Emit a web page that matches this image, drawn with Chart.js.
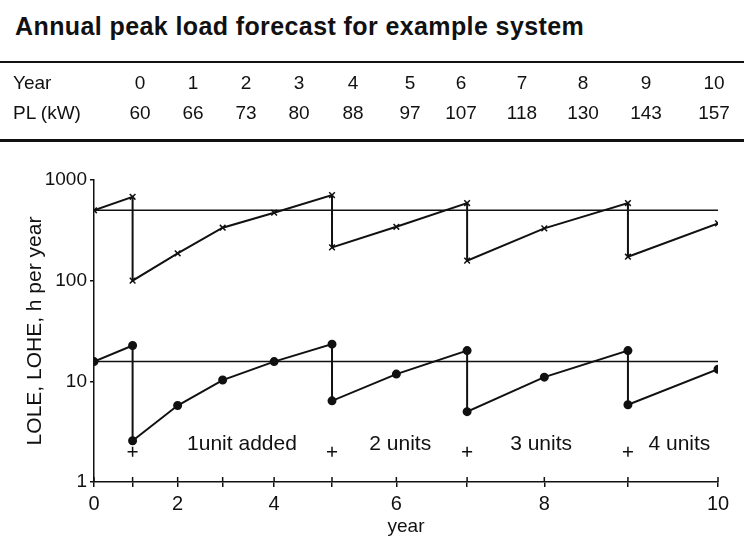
<!DOCTYPE html>
<html>
<head>
<meta charset="utf-8">
<script src="https://cdn.jsdelivr.net/npm/chart.js@4"></script>
<style>
  body { margin: 0; background: #fff; }
  #page { position: relative; width: 744px; height: 542px; font-family: "Liberation Sans", Arial, sans-serif; color: #111; }
  #title { position: absolute; left: 15px; top: 14px; font-size: 25px; line-height: 25px; font-weight: bold; letter-spacing: 0.4px; white-space: nowrap; }
  .rule { position: absolute; left: 0; width: 744px; background: #111; }
  .cell { position: absolute; font-size: 19px; line-height: 19px; white-space: nowrap; }
  canvas { position: absolute; left: 0; top: 0; }
</style>
</head>
<body>
<div id="page">
  <div id="title">Annual peak load forecast for example system</div>
  <div class="rule" style="top:61px;height:2px"></div>
  <div class="rule" style="top:139px;height:3px"></div>
  <canvas id="chart" width="744" height="542"></canvas>
</div>
<script>
// table + x axis data
const years = [0, 1, 2, 3, 4, 5, 6, 7, 8, 9, 10];
const peakLoad = [60, 66, 73, 80, 88, 97, 107, 118, 130, 143, 157];

// LOHE / LOLE at each year with the units in service before any addition,
// and the value right after a unit is added (null = no unit added)
const loheBefore = [500, 681, 187, 336, 473, 708, 343, 590, 331, 590, 371];
const loheAfter = [null, 100, null, null, null, 214, null, 158, null, 173, null];
const loleBefore = [15.7, 22.7, 5.75, 10.3, 15.7, 23.4, 11.8, 20.2, 11.0, 20.2, 13.2];
const loleAfter = [null, 2.57, null, null, null, 6.4, null, 5.0, null, 5.85, null];

// criterion levels
const loheLimit = 500;
const loleLimit = 15.7;

// unit additions
const unitMarkY = 2;
const unitLabels = ['1unit added', '2 units', '3 units', '4 units'];
const unitLabelX = [83, 107.6, 129.5, 151];
const unitLabelY = 2.4;

const yTicks = [1, 10, 100, 1000];

// table
const colCenters = [140, 193, 246, 299, 353, 410, 461, 522, 583, 646, 714];
const page = document.getElementById('page');
function addCell(text, left, top, center) {
    const d = document.createElement('div');
    d.className = 'cell';
    d.textContent = text;
    d.style.top = top + 'px';
    d.style.left = left + 'px';
    if (center) d.style.transform = 'translateX(-50%)';
    page.appendChild(d);
}
addCell('Year', 13, 73, false);
addCell('PL (kW)', 13, 103, false);
years.forEach((y, i) => {
    addCell(String(y), colCenters[i], 73, true);
    addCell(String(peakLoad[i]), colCenters[i], 103, true);
});

function sawtooth(before, after) {
    const pts = [];
    before.forEach((v, i) => {
        pts.push({ x: peakLoad[i], y: v });
        if (after[i] !== null) pts.push({ x: peakLoad[i], y: after[i] });
    });
    return pts;
}

const unitMarks = [];
loheAfter.forEach((v, i) => {
    if (v !== null) unitMarks.push({ x: peakLoad[i], y: unitMarkY });
});

const family = '"Liberation Sans", Arial, sans-serif';

// unit labels + tick marks that cross the x axis
const unitTextPlugin = {
    id: 'unitText',
    afterDatasetsDraw(chart) {
        const { ctx, scales, chartArea } = chart;
        ctx.save();
        ctx.font = '21px ' + family;
        ctx.fillStyle = '#111';
        ctx.textAlign = 'center';
        ctx.textBaseline = 'middle';
        unitLabels.forEach((t, i) => {
            ctx.fillText(t, scales.x.getPixelForValue(unitLabelX[i]), scales.y.getPixelForValue(unitLabelY));
        });
        ctx.strokeStyle = '#111';
        ctx.lineWidth = 1.5;
        peakLoad.forEach((v) => {
            const px = scales.x.getPixelForValue(v);
            ctx.beginPath();
            ctx.moveTo(px, chartArea.bottom);
            ctx.lineTo(px, chartArea.bottom - 5);
            ctx.stroke();
        });
        ctx.restore();
    }
};

const config = {
    type: 'line',
    data: {
        datasets: [
            {
                label: 'LOHE',
                data: sawtooth(loheBefore, loheAfter),
                borderColor: '#111',
                borderWidth: 2,
                pointStyle: 'crossRot',
                pointRadius: 4,
                pointBorderWidth: 1.5,
                pointBorderColor: '#111'
            },
            {
                label: 'LOLE',
                data: sawtooth(loleBefore, loleAfter),
                borderColor: '#111',
                borderWidth: 2,
                pointStyle: 'circle',
                pointRadius: 3.5,
                pointBackgroundColor: '#111',
                pointBorderColor: '#111'
            },
            {
                label: 'LOHE limit',
                data: [{ x: peakLoad[0], y: loheLimit }, { x: peakLoad[peakLoad.length - 1], y: loheLimit }],
                borderColor: '#111',
                borderWidth: 1.5,
                pointRadius: 0
            },
            {
                label: 'LOLE limit',
                data: [{ x: peakLoad[0], y: loleLimit }, { x: peakLoad[peakLoad.length - 1], y: loleLimit }],
                borderColor: '#111',
                borderWidth: 1.5,
                pointRadius: 0
            },
            {
                label: 'unit added',
                data: unitMarks,
                showLine: false,
                pointStyle: 'cross',
                pointRadius: 5,
                pointBorderWidth: 1.5,
                pointBorderColor: '#111'
            }
        ]
    },
    options: {
        responsive: false,
        animation: false,
        layout: { padding: { top: 180, right: 26, left: 0, bottom: 0 } },
        elements: { line: { tension: 0 } },
        plugins: {
            legend: { display: false },
            tooltip: { enabled: false }
        },
        scales: {
            x: {
                type: 'linear',
                min: peakLoad[0],
                max: peakLoad[peakLoad.length - 1],
                afterBuildTicks: (scale) => { scale.ticks = peakLoad.map(v => ({ value: v })); },
                afterFit: (scale) => { scale.height = 60; },
                border: { display: true, color: '#111', width: 1.5 },
                grid: { drawOnChartArea: false, drawTicks: true, tickLength: 5, color: '#111', lineWidth: 1.5 },
                ticks: {
                    autoSkip: false,
                    maxRotation: 0,
                    padding: 5,
                    color: '#111',
                    font: { family: family, size: 20 },
                    callback: (value, index) => (years[index] % 2 === 0 ? String(years[index]) : '')
                },
                title: {
                    display: true,
                    text: 'year',
                    color: '#111',
                    padding: { top: 0, bottom: 4 },
                    font: { family: family, size: 19 }
                }
            },
            y: {
                type: 'logarithmic',
                min: 1,
                max: 1000,
                afterBuildTicks: (scale) => { scale.ticks = yTicks.map(v => ({ value: v })); },
                afterFit: (scale) => { scale.width = 94; },
                border: { display: true, color: '#111', width: 1.5 },
                grid: { drawOnChartArea: false, drawTicks: true, tickLength: 4, color: '#111', lineWidth: 1.5 },
                ticks: {
                    padding: 3,
                    color: '#111',
                    font: { family: family, size: 19 },
                    callback: (value) => String(value)
                },
                title: {
                    display: true,
                    text: 'LOLE, LOHE, h per year',
                    color: '#111',
                    padding: { top: 23, bottom: 0 },
                    font: { family: family, size: 21 }
                }
            }
        }
    },
    plugins: [unitTextPlugin]
};

const canvas = document.getElementById('chart');
var myChart = new Chart(canvas, config);
</script>
</body>
</html>
